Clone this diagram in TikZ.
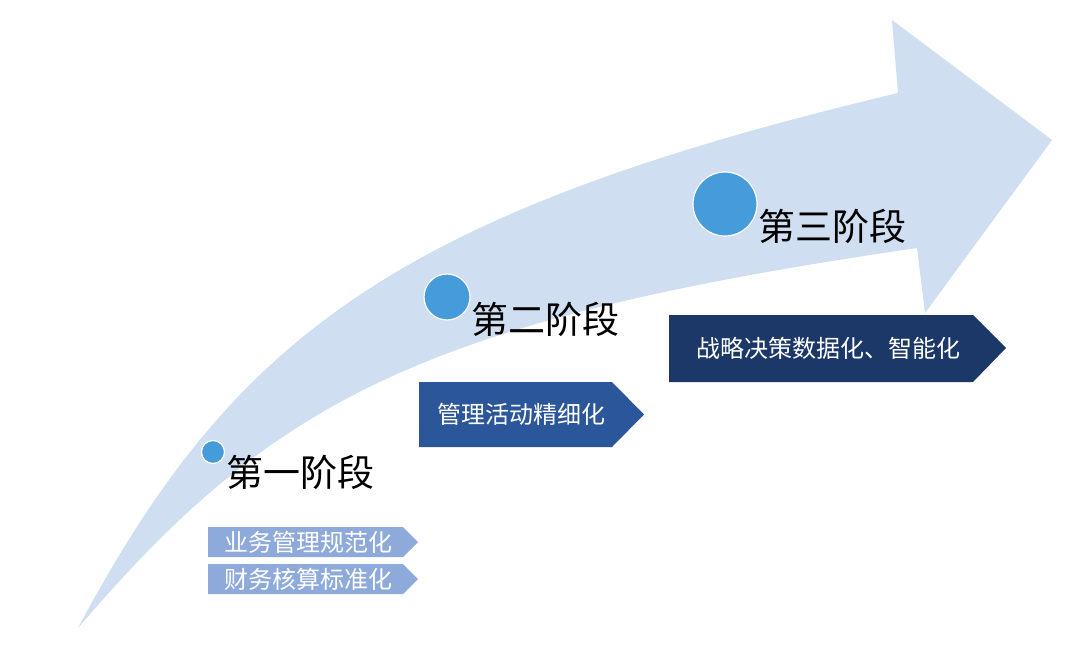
\documentclass[tikz,border=0pt]{standalone}
\usepackage{fontspec}
\setmainfont{Noto Sans CJK SC}
\definecolor{bandblue}{HTML}{CFDEF0}
\definecolor{dotblue}{HTML}{469CDA}
\definecolor{boxA}{HTML}{8EAADB}
\definecolor{boxB}{HTML}{2B569A}
\definecolor{boxC}{HTML}{1C3868}
\tikzset{
  stagedot/.style={circle, fill=dotblue, draw=white, line width=1.2pt, inner sep=0pt},
  stagetext/.style={anchor=west, inner sep=0pt, font=\fontsize{37}{40}\selectfont, text=black},
  boxtext/.style={anchor=west, inner sep=0pt, font=\fontsize{24}{27}\selectfont, text=white},
}
\begin{document}
\begin{tikzpicture}[x=1pt,y=-1pt]
\useasboundingbox (0,0) rectangle (1080,672);
\fill[white] (0,0) rectangle (1080,672);
% big curved arrow
\fill[bandblue] (78,628) .. controls (233,338) and (394,213) .. (898,93)
  -- (892,20) -- (1052,140) -- (925,313) -- (917,248)
  .. controls (422,320) and (273,400) .. (78,628) -- cycle;
% stage dots
\node[stagedot, minimum size=23pt] (d1) at (213,452) {};
\node[stagedot, minimum size=46pt] (d2) at (447,297) {};
\node[stagedot, minimum size=64pt] (d3) at (725,204) {};
% stage titles
\node[stagetext] (s1) at (226,472) {第一阶段};
\node[stagetext] (s2) at (471,319) {第二阶段};
\node[stagetext] (s3) at (758,226) {第三阶段};
% chevron boxes
\fill[boxA] (208,527) -- (403,527) -- (418,542) -- (403,557) -- (208,557) -- cycle;
\fill[boxA] (208,564) -- (403,564) -- (418,579) -- (403,594) -- (208,594) -- cycle;
\fill[boxB] (419,382) -- (612,382) -- (644,414.5) -- (612,447) -- (419,447) -- cycle;
\fill[boxC] (669,315) -- (973,315) -- (1006,348) -- (973,382) -- (669,382) -- cycle;
\node[boxtext] (a1) at (224,542) {业务管理规范化};
\node[boxtext] (a2) at (224,579) {财务核算标准化};
\node[boxtext] (b1) at (437,414) {管理活动精细化};
\node[boxtext] (c1) at (696,348) {战略决策数据化、智能化};
\end{tikzpicture}
\end{document}
